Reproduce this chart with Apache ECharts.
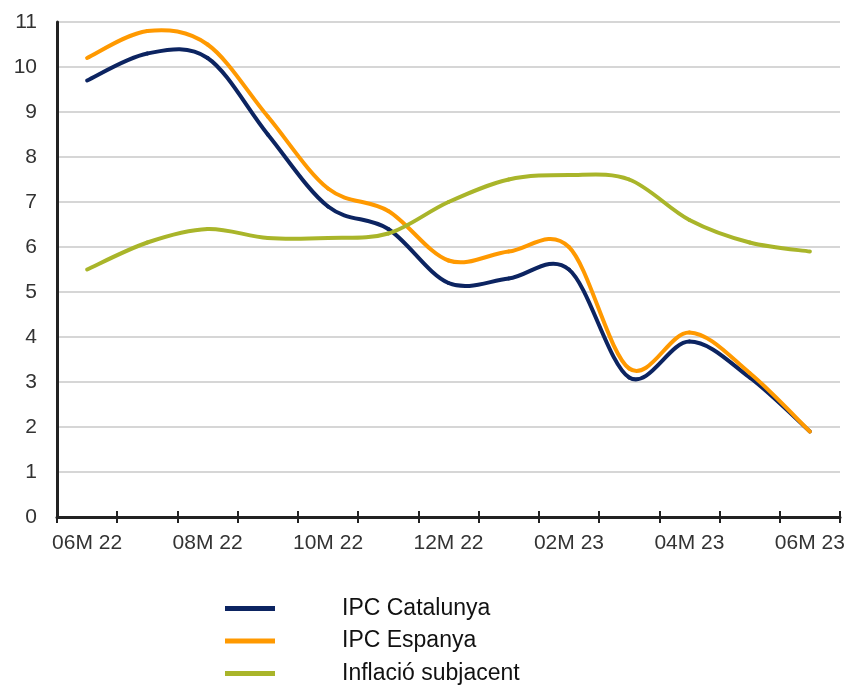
<!DOCTYPE html>
<html>
<head>
<meta charset="utf-8">
<script src="https://cdn.jsdelivr.net/npm/echarts@6/dist/echarts.min.js"></script>
<style>html,body{margin:0;padding:0;background:#fff}#c{width:852px;height:689px}</style>
</head>
<body>
<div id="c"></div>
<script>
const categories = ['06M 22','07M 22','08M 22','09M 22','10M 22','11M 22','12M 22','01M 23','02M 23','03M 23','04M 23','05M 23','06M 23'];
const ipcCatalunya = [9.7, 10.3, 10.2, 8.5, 6.9, 6.4, 5.2, 5.3, 5.5, 3.1, 3.9, 3.1, 1.9];
const ipcEspanya = [10.2, 10.8, 10.5, 8.9, 7.3, 6.8, 5.7, 5.9, 6.0, 3.3, 4.1, 3.2, 1.9];
const inflacioSubjacent = [5.5, 6.1, 6.4, 6.2, 6.2, 6.3, 7.0, 7.5, 7.6, 7.5, 6.6, 6.1, 5.9];
const seriesNames = ['IPC Catalunya', 'IPC Espanya', 'Inflació subjacent'];
const yTicks = {min: 0, max: 11, interval: 1};

const FONT = 'Liberation Sans, Arial, sans-serif';
const colors = ['#0c2461', '#ff9900', '#a9b52a'];
const chart = echarts.init(document.getElementById('c'), null, {renderer: 'canvas'});

// Smooth (Catmull-Rom style) curve drawn segment by segment through the axis scales
function curveSeries(name, values, color) {
  const n = values.length;
  return {
    name: name, type: 'custom',
    data: values.map((v, i) => [i, v]),
    encode: {x: 0, y: 1},
    itemStyle: {color: color},
    renderItem: function (params, api) {
      const i = params.dataIndex;
      if (i >= n - 1) return null;
      const pt = k => { const j = Math.max(0, Math.min(n - 1, k)); return api.coord([j, values[j]]); };
      const p0 = pt(i - 1), p1 = pt(i), p2 = pt(i + 1), p3 = pt(i + 2);
      const t = 1 / 6;
      return {
        type: 'bezierCurve',
        shape: {
          x1: p1[0], y1: p1[1], x2: p2[0], y2: p2[1],
          cpx1: p1[0] + (p2[0] - p0[0]) * t, cpy1: p1[1] + (p2[1] - p0[1]) * t,
          cpx2: p2[0] - (p3[0] - p1[0]) * t, cpy2: p2[1] - (p3[1] - p1[1]) * t
        },
        style: {stroke: color, lineWidth: 4, fill: null, lineCap: 'round'}
      };
    }
  };
}

chart.setOption({
  animation: false,
  textStyle: {fontFamily: FONT},
  grid: {left: 57, right: 12, top: 22, bottom: 172, containLabel: false},
  xAxis: [{
    type: 'category', data: categories, boundaryGap: true,
    axisLine: {lineStyle: {color: '#222', width: 3}},
    axisTick: {show: true, interval: 0, length: 6, lineStyle: {color: '#222', width: 2}},
    axisLabel: {interval: 1, color: '#333', fontSize: 21, fontFamily: FONT, margin: 16},
    splitLine: {show: false}
  }, {
    type: 'category', data: categories, boundaryGap: true, position: 'bottom',
    axisLine: {show: false},
    axisTick: {show: true, inside: true, interval: 0, length: 6, lineStyle: {color: '#222', width: 2}},
    axisLabel: {show: false}, splitLine: {show: false}
  }],
  yAxis: {
    type: 'value', min: yTicks.min, max: yTicks.max, interval: yTicks.interval,
    axisLine: {show: true, lineStyle: {color: '#222', width: 3}},
    axisTick: {show: false},
    axisLabel: {color: '#333', fontSize: 21, fontFamily: FONT, margin: 20},
    splitLine: {lineStyle: {color: '#c8c8c8', width: 1.5}}
  },
  legend: {
    orient: 'vertical', left: 225, top: 597, padding: 0,
    itemWidth: 50, itemHeight: 5, itemGap: 9.5, icon: 'rect',
    textStyle: {fontSize: 23, color: '#111', fontFamily: FONT, padding: [5, 0, 0, 62]},
    data: seriesNames
  },
  series: [
    curveSeries(seriesNames[0], ipcCatalunya, colors[0]),
    curveSeries(seriesNames[1], ipcEspanya, colors[1]),
    curveSeries(seriesNames[2], inflacioSubjacent, colors[2])
  ]
});
</script>
</body>
</html>
